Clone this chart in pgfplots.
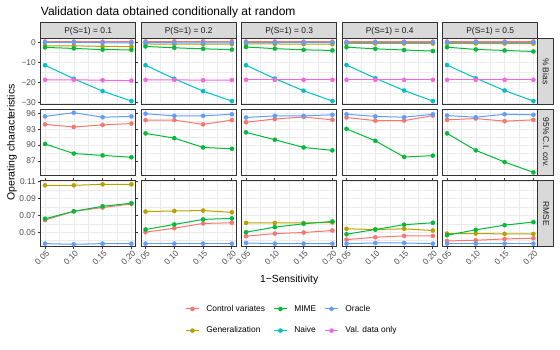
\documentclass[border=0pt]{standalone}
\usepackage{pgfplots}
\usepackage{pgfplotstable}
\pgfplotsset{compat=1.18}
\usepackage{fontspec}
\setmainfont{Liberation Sans}

\definecolor{cCV}{HTML}{F8766D}
\definecolor{cGen}{HTML}{B79F00}
\definecolor{cMIME}{HTML}{00BA38}
\definecolor{cNaive}{HTML}{00BFC4}
\definecolor{cOracle}{HTML}{619CFF}
\definecolor{cVal}{HTML}{F564E3}
\definecolor{g20}{HTML}{333333}
\definecolor{g30}{HTML}{4D4D4D}
\definecolor{g10}{HTML}{1A1A1A}
\definecolor{gridc}{HTML}{EBEBEB}
\definecolor{stripc}{HTML}{D9D9D9}

\newcommand\smallf{\fontsize{8.4pt}{10pt}\selectfont}

% % Bias, one table per P(S=1)
\pgfplotstableread{
x    cv   gen   mime  naive  oracle val
0.05 0.3  -1.8  -2.6  -11.4  -0.1   -18.6
0.10 0.3  -1.8  -3.1  -18.1  -0.1   -18.6
0.15 0.2  -2.1  -3.7  -24.2  -0.3   -18.8
0.20 0.2  -2.2  -3.8  -29.1  -0.3   -19.0
}\biasA
\pgfplotstableread{
x    cv   gen   mime  naive  oracle val
0.05 0.4  -0.9  -2.1  -11.4  -0.2   -18.6
0.10 0.4  -1.0  -2.8  -18.1  -0.3   -18.6
0.15 0.4  -1.0  -3.3  -24.2  -0.4   -18.8
0.20 0.4  -1.0  -3.7  -29.1  -0.3   -18.7
}\biasB
\pgfplotstableread{
x    cv   gen   mime  naive  oracle val
0.05 0.3  -0.9  -2.4  -11.4  -0.2   -18.6
0.10 0.3  -0.9  -3.2  -18.0  -0.2   -18.6
0.15 0.2  -1.0  -3.8  -24.0  -0.2   -18.6
0.20 0.2  -1.0  -4.1  -29.1  -0.2   -18.6
}\biasC
\pgfplotstableread{
x    cv   gen   mime  naive  oracle val
0.05 0.2  -0.7  -2.5  -11.3  -0.1   -18.6
0.10 0.2  -0.7  -3.3  -17.8  -0.1   -18.6
0.15 0.2  -0.7  -3.9  -23.9  -0.1   -18.6
0.20 0.2  -0.7  -4.4  -29.1  -0.1   -18.6
}\biasD
\pgfplotstableread{
x    cv   gen   mime  naive  oracle val
0.05 0.3  -0.6  -2.5  -11.3  0.0    -18.6
0.10 0.3  -0.7  -3.6  -17.8  0.0    -18.6
0.15 0.3  -0.7  -4.1  -23.9  0.0    -18.6
0.20 0.3  -0.7  -4.6  -29.1  0.0    -18.6
}\biasE

% 95% C.I. coverage
\pgfplotstableread{
x    cv     mime   oracle
0.05 93.90  90.20  95.40
0.10 93.40  88.40  96.10
0.15 93.80  88.05  95.25
0.20 94.05  87.70  95.40
}\covA
\pgfplotstableread{
x    cv     mime   oracle
0.05 94.70  92.20  95.90
0.10 94.70  91.30  95.50
0.15 93.90  89.55  95.50
0.20 94.70  89.30  95.80
}\covB
\pgfplotstableread{
x    cv     mime   oracle
0.05 94.30  92.40  95.20
0.10 94.90  91.00  95.50
0.15 95.30  89.55  95.50
0.20 94.75  89.00  95.70
}\covC
\pgfplotstableread{
x    cv     mime   oracle
0.05 95.20  93.05  95.80
0.10 94.60  90.80  95.40
0.15 94.60  87.75  95.25
0.20 95.55  88.00  95.80
}\covD
\pgfplotstableread{
x    cv     mime   oracle
0.05 94.75  92.20  95.55
0.10 95.00  89.00  95.25
0.15 94.50  86.80  95.80
0.20 94.75  84.85  95.70
}\covE

% RMSE
\pgfplotstableread{
x    cv      gen     mime    oracle
0.05 0.0644  0.1057  0.0660  0.0364
0.10 0.0748  0.1057  0.0748  0.0356
0.15 0.0793  0.1069  0.0808  0.0364
0.20 0.0836  0.1069  0.0844  0.0364
}\rmseA
\pgfplotstableread{
x    cv      gen     mime    oracle
0.05 0.0500  0.0745  0.0532  0.0364
0.10 0.0548  0.0752  0.0592  0.0364
0.15 0.0604  0.0757  0.0652  0.0364
0.20 0.0612  0.0736  0.0664  0.0364
}\rmseB
\pgfplotstableread{
x    cv      gen     mime    oracle
0.05 0.0452  0.0610  0.0500  0.0372
0.10 0.0484  0.0610  0.0560  0.0364
0.15 0.0496  0.0610  0.0600  0.0364
0.20 0.0520  0.0616  0.0628  0.0364
}\rmseC
\pgfplotstableread{
x    cv      gen     mime    oracle
0.05 0.0412  0.0540  0.0476  0.0364
0.10 0.0440  0.0532  0.0532  0.0372
0.15 0.0456  0.0540  0.0589  0.0372
0.20 0.0456  0.0520  0.0612  0.0364
}\rmseD
\pgfplotstableread{
x    cv      gen     mime    oracle
0.05 0.0396  0.0484  0.0464  0.0364
0.10 0.0404  0.0484  0.0528  0.0364
0.15 0.0420  0.0480  0.0584  0.0364
0.20 0.0428  0.0480  0.0620  0.0364
}\rmseE

\newcommand\ser[3]{\addplot[#1] table[x=x,y=#2]{#3};}
\newcommand\biasplots[1]{\ser{cCV}{cv}{#1}\ser{cGen}{gen}{#1}\ser{cMIME}{mime}{#1}%
  \ser{cNaive}{naive}{#1}\ser{cOracle}{oracle}{#1}\ser{cVal}{val}{#1}}
\newcommand\covplots[1]{\ser{cCV}{cv}{#1}\ser{cMIME}{mime}{#1}\ser{cOracle}{oracle}{#1}}
\newcommand\rmseplots[1]{\ser{cCV}{cv}{#1}\ser{cGen}{gen}{#1}\ser{cMIME}{mime}{#1}\ser{cOracle}{oracle}{#1}}

\pgfplotsset{
  panel/.style={
    scale only axis, width=95pt, height=65.8pt, anchor=north west,
    xmin=0.0425, xmax=0.2075,
    xtick={0.05,0.10,0.15,0.20}, minor xtick={0.075,0.125,0.175},
    xticklabels={}, yticklabels={},
    grid=both,
    major grid style={color=gridc, line width=0.5pt},
    minor grid style={color=gridc, line width=0.25pt},
    axis line style={color=g20, line width=0.9pt},
    tick align=outside, major tick length=2.6pt, minor tick length=0pt,
    xtick style={draw=none}, ytick style={draw=none},
    tick label style={font=\smallf, color=g30},
    every axis plot/.append style={line width=1pt, mark=*, mark size=2.1pt, mark options={solid, line width=0.3pt}},
  },
  leftcol/.style={ytick style={draw=g20, line width=0.8pt},
    yticklabel style={anchor=east, inner sep=0pt, xshift=-2.1pt}},
  bottomrow/.style={xtick style={draw=g20, line width=0.8pt},
    xticklabels={0.05,0.10,0.15,0.20},
    xticklabel style={rotate=45, anchor=north east, inner sep=0pt, yshift=-1pt}},
  rowB/.style={ymin=-30.6, ymax=1.9, ytick={-30,-20,-10,0}, minor ytick={-25,-15,-5}},
  rowBlab/.style={yticklabels={−30,−20,−10,0}},
  rowC/.style={ymin=84.3, ymax=96.7, ytick={87,90,93,96}, minor ytick={85.5,88.5,91.5,94.5}},
  rowClab/.style={yticklabels={87,90,93,96}},
  rowR/.style={ymin=0.033, ymax=0.1112, ytick={0.05,0.07,0.09,0.11}, minor ytick={0.04,0.06,0.08,0.10}},
  rowRlab/.style={yticklabels={0.05,0.07,0.09,0.11}},
}

\begin{document}
\begin{tikzpicture}[x=1pt, y=1pt]
% top strips
\foreach \xx/\lab in {40.7/0.1, 141.2/0.2, 241.7/0.3, 342.2/0.4, 442.7/0.5}{
  \draw[fill=stripc, draw=g20, line width=0.6pt] (\xx,-22.7) rectangle ({\xx+95},-38.3);
  \node[anchor=base, inner sep=0pt, font=\smallf, text=g10] at ({\xx+47.5},-33.9) {P(S=1) = \lab};
}
% right strips
\foreach \yy/\lab in {38.3/\% Bias, 109.5/95\% C.I. cov., 180.7/RMSE}{
  \draw[fill=stripc, draw=g20, line width=0.6pt] (537.7,-\yy) rectangle (553.5,{-\yy-65.8});
  \node[rotate=-90, inner sep=0pt, font=\smallf, text=g10] at (545.9,{-\yy-32.9}) {\lab};
}

% row 1: % Bias
\begin{axis}[panel, rowB, leftcol, rowBlab, at={(40.7pt,-38.3pt)}] \biasplots{\biasA} \end{axis}
\begin{axis}[panel, rowB, at={(141.2pt,-38.3pt)}] \biasplots{\biasB} \end{axis}
\begin{axis}[panel, rowB, at={(241.7pt,-38.3pt)}] \biasplots{\biasC} \end{axis}
\begin{axis}[panel, rowB, at={(342.2pt,-38.3pt)}] \biasplots{\biasD} \end{axis}
\begin{axis}[panel, rowB, at={(442.7pt,-38.3pt)}] \biasplots{\biasE} \end{axis}

% row 2: coverage
\begin{axis}[panel, rowC, leftcol, rowClab, at={(40.7pt,-109.5pt)}] \covplots{\covA} \end{axis}
\begin{axis}[panel, rowC, at={(141.2pt,-109.5pt)}] \covplots{\covB} \end{axis}
\begin{axis}[panel, rowC, at={(241.7pt,-109.5pt)}] \covplots{\covC} \end{axis}
\begin{axis}[panel, rowC, at={(342.2pt,-109.5pt)}] \covplots{\covD} \end{axis}
\begin{axis}[panel, rowC, at={(442.7pt,-109.5pt)}] \covplots{\covE} \end{axis}

% row 3: RMSE
\begin{axis}[panel, rowR, leftcol, rowRlab, bottomrow, at={(40.7pt,-180.7pt)}] \rmseplots{\rmseA} \end{axis}
\begin{axis}[panel, rowR, bottomrow, at={(141.2pt,-180.7pt)}] \rmseplots{\rmseB} \end{axis}
\begin{axis}[panel, rowR, bottomrow, at={(241.7pt,-180.7pt)}] \rmseplots{\rmseC} \end{axis}
\begin{axis}[panel, rowR, bottomrow, at={(342.2pt,-180.7pt)}] \rmseplots{\rmseD} \end{axis}
\begin{axis}[panel, rowR, bottomrow, at={(442.7pt,-180.7pt)}] \rmseplots{\rmseE} \end{axis}

% legend
\begin{axis}[at={(290.9pt,-319.8pt)}, anchor=center, hide axis, scale only axis,
  width=10pt, height=10pt, xmin=0, xmax=1, ymin=0, ymax=1,
  legend columns=3, legend cell align=left,
  legend style={at={(0.5,0.5)}, anchor=center, draw=none, fill=none, inner sep=0pt,
    font=\smallf, text=black,
    nodes={inner sep=0pt, text height=6pt, text depth=1.8pt},
    /tikz/every odd column/.style={column sep=6.7pt},
    /tikz/every even column/.style={column sep=8.2pt},
    row sep=13.9pt},
  legend image code/.code={\draw[mark repeat=2, mark phase=2, #1] plot coordinates {(0pt,0pt) (6.65pt,0pt) (13.3pt,0pt)};}
]
\addlegendimage{cCV, line width=1pt, mark=*, mark size=2.1pt, mark options={line width=0.3pt}}
\addlegendentry{Control variates}
\addlegendimage{cMIME, line width=1pt, mark=*, mark size=2.1pt, mark options={line width=0.3pt}}
\addlegendentry{MIME}
\addlegendimage{cOracle, line width=1pt, mark=*, mark size=2.1pt, mark options={line width=0.3pt}}
\addlegendentry{Oracle}
\addlegendimage{cGen, line width=1pt, mark=*, mark size=2.1pt, mark options={line width=0.3pt}}
\addlegendentry{Generalization}
\addlegendimage{cNaive, line width=1pt, mark=*, mark size=2.1pt, mark options={line width=0.3pt}}
\addlegendentry{Naive}
\addlegendimage{cVal, line width=1pt, mark=*, mark size=2.1pt, mark options={line width=0.3pt}}
\addlegendentry{Val. data only}
\end{axis}

% titles
\node[anchor=base west, inner sep=0pt, font=\fontsize{12pt}{14pt}\selectfont] at (40.7,-16) {Validation data obtained conditionally at random};
\node[anchor=base, inner sep=0pt, font=\fontsize{10.3pt}{12pt}\selectfont] at (289.2,-282.7) {1−Sensitivity};
\node[anchor=base, rotate=90, inner sep=0pt, font=\fontsize{10.5pt}{12pt}\selectfont] at (14.5,-142.4) {Operating characteristics};

\pgfresetboundingbox
\useasboundingbox (0,0) rectangle (560,-350);
\end{tikzpicture}
\end{document}
